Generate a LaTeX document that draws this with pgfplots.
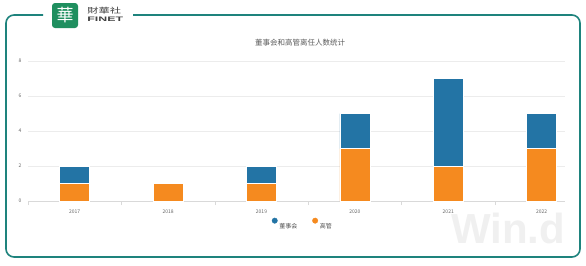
\documentclass[border=0pt]{standalone}
\usepackage{fontspec}
\setmainfont{Noto Sans CJK SC}
\newfontfamily\latinsans{Liberation Sans}
\usepackage{pgfplots}
\pgfplotsset{compat=1.18}
\definecolor{cblue}{HTML}{2374A5}
\definecolor{corange}{HTML}{F58A1F}
\definecolor{frameteal}{HTML}{1E837D}
\definecolor{logogreen}{HTML}{1F8F5F}
\definecolor{txtgray}{HTML}{666666}
\begin{document}
\begin{tikzpicture}
\useasboundingbox (0pt,0pt) rectangle (586pt,-265pt);
\fill[white] (0pt,0pt) rectangle (586pt,-265pt);
\draw[frameteal, line width=1.6pt, rounded corners=8pt] (43pt,-15pt) -- (6pt,-15pt) -- (6pt,-257pt) -- (580pt,-257pt) -- (580pt,-15pt) -- (133pt,-15pt);
\fill[logogreen, rounded corners=3pt] (52pt,-3pt) rectangle (78pt,-28pt);
\node[white, font=\fontsize{17}{17}\selectfont] at (65pt,-15.5pt) {華};
\node[anchor=west, inner sep=0, xscale=1.5, font=\fontsize{7.5}{7.5}\selectfont, text=darkgray] at (87pt,-11pt) {財華社};
\node[anchor=west, inner sep=0, xscale=1.9, font=\latinsans\fontsize{6.5}{6.5}\selectfont\bfseries, text=darkgray] at (87pt,-19.5pt) {FINET};
\node[font=\latinsans\fontsize{42}{42}\selectfont\bfseries, text=gray!12] at (508pt,-228pt) {Win.d};
\node[font=\fontsize{7.5}{7.5}\selectfont, text=txtgray!90!black] at (300pt,-43pt) {董事会和高管离任人数统计};
\begin{axis}[
  at={(28pt,-201pt)}, anchor=south west,
  scale only axis, width=537pt, height=140pt,
  xmin=-0.5, xmax=5.25, ymin=0, ymax=8,
  ybar stacked, bar width=30pt,
  axis x line*=bottom, axis y line*=left,
  x axis line style={draw=gray!30},
  y axis line style={draw=none},
  xtick={0,1,2,3,4,5},
  xticklabels={2017,2018,2019,2020,2021,2022},
  major x tick style={draw=none},
  major y tick style={draw=none},
  minor xtick={-0.5,0.5,1.5,2.5,3.5,4.5},
  minor x tick style={draw=gray!30},
  minor tick length=4pt,
  xtick align=outside,
  ytick={0,2,4,6,8},
  ymajorgrids, grid style={draw=gray!15},
  /pgf/number format/assume math mode=true,
  tick label style={font=\fontsize{5}{5}\selectfont, text=txtgray},
  xticklabel style={yshift=-1pt},
  yticklabel style={xshift=-3pt},
  legend style={at={(0.512,-0.171)}, anchor=center, draw=none, legend columns=2,
    font=\fontsize{6}{6}\selectfont, text=txtgray!80!black,
    /tikz/every even column/.append style={column sep=13pt}},
  legend cell align=left,
]
\addplot[fill=corange, draw=white, line width=0.4pt, forget plot] coordinates {(0,1) (1,1) (2,1) (3,3) (4,2) (5,3)};
\addplot[fill=cblue, draw=white, line width=0.4pt, forget plot] coordinates {(0,1) (1,0) (2,1) (3,2) (4,5) (5,2)};
\addlegendimage{only marks, mark=*, mark size=2.7pt, color=cblue}
\addlegendentry{董事会}
\addlegendimage{only marks, mark=*, mark size=2.7pt, color=corange}
\addlegendentry{高管}
\end{axis}
\end{tikzpicture}
\end{document}
